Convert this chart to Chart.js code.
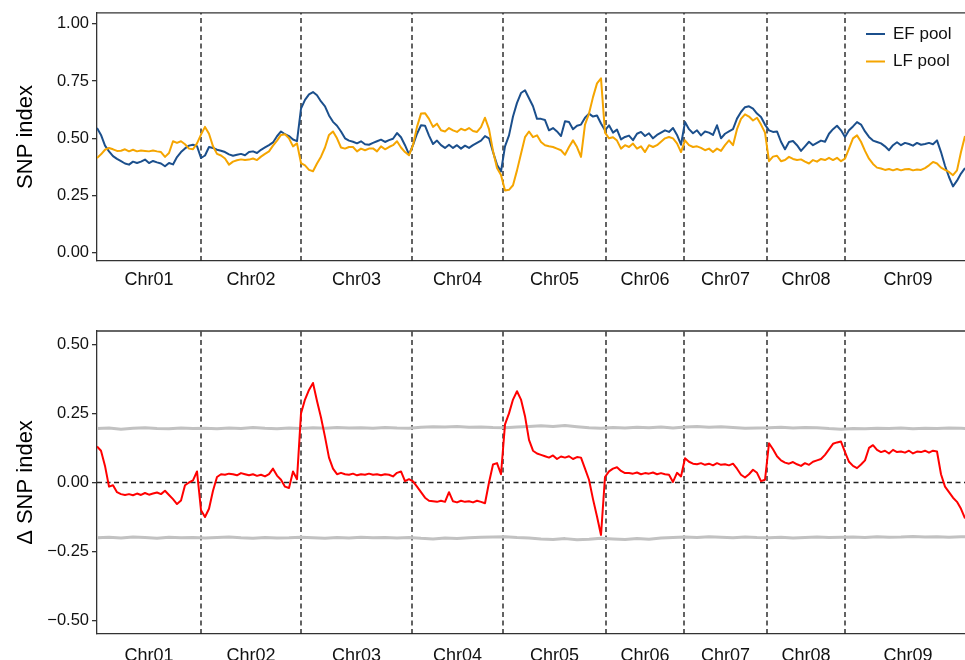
<!DOCTYPE html>
<html>
<head>
<meta charset="utf-8">
<title>SNP index</title>
<script src="https://cdn.jsdelivr.net/npm/chart.js@4.4.1/dist/chart.umd.min.js"></script>
<style>
  html, body { margin: 0; padding: 0; background: #fff; }
  #wrap { width: 965px; height: 660px; overflow: hidden; }
  canvas { display: block; }
</style>
</head>
<body>
<div id="wrap">
  <canvas id="snpChart" width="965" height="300"></canvas>
  <canvas id="deltaChart" width="965" height="360"></canvas>
</div>
<script>
/* --------- データ --------- */
// 染色体名と長さ（Mb）
const chromNames = ["Chr01", "Chr02", "Chr03", "Chr04", "Chr05", "Chr06", "Chr07", "Chr08", "Chr09"];
const chromLengths = [104, 100, 111, 91, 103, 78, 83, 78, 126];

// 表示範囲の右端（Mb）、系列のサンプル間隔（Mb）
const X_END = 868;
const STEP = 4;
const THR_STEP = 12;

// y 軸の目盛り
const snpTicks = [0, 0.25, 0.5, 0.75, 1];
const deltaTicks = [-0.5, -0.25, 0, 0.25, 0.5];

// EF pool の SNP index（STEP ごと）
const efPool = [
  0.545,0.515,0.468,0.443,0.422,0.410,0.400,0.390,0.385,0.398,0.392,0.398,0.407,0.392,0.401,0.395,0.390,0.378,0.392,0.386,0.418,0.440,0.456,0.468,0.472,0.466,
  0.414,0.425,0.462,0.458,0.450,0.446,0.440,0.430,0.424,0.428,0.432,0.426,0.440,0.443,0.436,0.450,0.460,0.470,0.482,0.509,0.530,0.518,0.510,0.495,0.488,
  0.630,0.668,0.692,0.702,0.688,0.661,0.640,0.600,0.572,0.555,0.530,0.500,0.490,0.485,0.478,0.487,0.474,0.472,0.480,0.487,0.494,0.484,0.492,0.498,0.523,0.505,0.470,0.430,
  0.470,0.520,0.557,0.555,0.512,0.475,0.490,0.470,0.458,0.472,0.458,0.470,0.455,0.468,0.458,0.470,0.480,0.490,0.510,0.500,0.440,0.385,0.355,
  0.465,0.513,0.595,0.655,0.698,0.710,0.675,0.640,0.585,0.585,0.580,0.535,0.545,0.530,0.510,0.575,0.571,0.540,0.555,0.560,0.590,0.608,0.595,0.600,0.565,
  0.535,0.557,0.525,0.538,0.495,0.506,0.512,0.492,0.520,0.528,0.510,0.522,0.500,0.515,0.525,0.535,0.528,0.545,0.515,0.472,
  0.571,0.540,0.522,0.535,0.513,0.530,0.525,0.515,0.557,0.500,0.520,0.530,0.540,0.586,0.615,0.636,0.640,0.630,0.608,0.593,0.560,
  0.535,0.528,0.530,0.485,0.452,0.484,0.488,0.470,0.445,0.465,0.485,0.470,0.480,0.490,0.485,0.520,0.540,0.555,0.535,
  0.506,0.535,0.552,0.571,0.560,0.530,0.506,0.490,0.484,0.478,0.465,0.448,0.470,0.483,0.470,0.480,0.475,0.468,0.480,0.472,0.475,0.480,0.474,0.491,0.440,0.380,0.331,0.290,0.315,0.346,0.370
];

// LF pool の SNP index（STEP ごと）
const lfPool = [
  0.414,0.430,0.450,0.458,0.452,0.445,0.446,0.452,0.443,0.450,0.443,0.447,0.445,0.443,0.447,0.443,0.440,0.419,0.436,0.487,0.480,0.487,0.474,0.455,0.452,0.478,
  0.516,0.550,0.520,0.465,0.432,0.425,0.412,0.385,0.398,0.404,0.408,0.405,0.407,0.412,0.405,0.420,0.432,0.443,0.468,0.490,0.515,0.518,0.500,0.465,0.478,
  0.392,0.382,0.362,0.356,0.390,0.420,0.460,0.515,0.530,0.500,0.460,0.455,0.462,0.462,0.443,0.455,0.448,0.455,0.456,0.443,0.465,0.452,0.462,0.470,0.487,0.460,0.440,0.426,
  0.470,0.550,0.608,0.610,0.585,0.550,0.564,0.535,0.530,0.545,0.535,0.528,0.542,0.535,0.545,0.532,0.528,0.549,0.590,0.540,0.445,0.370,0.340,
  0.272,0.275,0.295,0.360,0.433,0.505,0.530,0.505,0.513,0.484,0.470,0.465,0.462,0.455,0.448,0.428,0.462,0.491,0.462,0.419,0.560,0.608,0.680,0.740,0.762,
  0.525,0.500,0.505,0.490,0.455,0.470,0.462,0.477,0.455,0.465,0.440,0.470,0.462,0.470,0.485,0.500,0.506,0.500,0.478,0.440,
  0.491,0.470,0.462,0.465,0.458,0.448,0.455,0.440,0.455,0.445,0.470,0.491,0.470,0.540,0.585,0.605,0.595,0.578,0.590,0.560,0.525,
  0.400,0.420,0.424,0.400,0.405,0.419,0.410,0.405,0.408,0.398,0.390,0.405,0.398,0.410,0.405,0.415,0.405,0.415,0.400,
  0.411,0.455,0.500,0.513,0.485,0.445,0.411,0.388,0.372,0.368,0.362,0.366,0.360,0.366,0.360,0.365,0.366,0.360,0.364,0.362,0.370,0.382,0.397,0.390,0.372,0.362,0.353,0.339,0.360,0.440,0.510
];

// Δ SNP index（STEP ごと）
const deltaSnp = [
  0.130,0.115,0.060,-0.015,-0.010,-0.035,-0.042,-0.045,-0.042,-0.046,-0.040,-0.045,-0.038,-0.044,-0.040,-0.036,-0.042,-0.030,-0.045,-0.060,-0.078,-0.065,-0.010,0.000,0.008,0.040,
  -0.100,-0.125,-0.095,-0.030,0.020,0.030,0.028,0.032,0.030,0.026,0.034,0.030,0.026,0.030,0.024,0.028,0.022,0.030,0.050,0.025,0.010,-0.015,-0.020,0.040,0.012,
  0.250,0.300,0.335,0.360,0.295,0.235,0.165,0.090,0.050,0.030,0.035,0.030,0.028,0.032,0.026,0.030,0.028,0.032,0.028,0.030,0.026,0.030,0.028,0.022,0.035,0.040,0.005,0.012,
  0.004,-0.015,-0.035,-0.055,-0.066,-0.068,-0.070,-0.066,-0.070,-0.035,-0.068,-0.072,-0.066,-0.070,-0.068,-0.072,-0.066,-0.070,-0.075,0.000,0.065,0.070,0.030,
  0.210,0.250,0.300,0.330,0.300,0.240,0.154,0.115,0.105,0.100,0.095,0.090,0.098,0.085,0.094,0.090,0.095,0.085,0.092,0.090,0.050,0.010,-0.060,-0.123,-0.190,
  0.020,0.040,0.050,0.055,0.042,0.034,0.034,0.032,0.036,0.030,0.034,0.032,0.036,0.030,0.034,0.030,0.028,0.002,0.035,0.022,
  0.088,0.075,0.068,0.066,0.070,0.064,0.068,0.062,0.070,0.064,0.066,0.062,0.068,0.050,0.028,0.018,0.030,0.046,0.035,0.005,0.010,
  0.142,0.120,0.095,0.080,0.072,0.068,0.074,0.066,0.060,0.070,0.064,0.075,0.080,0.085,0.100,0.120,0.140,0.145,0.148,
  0.110,0.075,0.060,0.052,0.065,0.080,0.125,0.135,0.118,0.110,0.115,0.105,0.118,0.110,0.112,0.108,0.115,0.105,0.112,0.110,0.115,0.108,0.115,0.112,0.030,-0.015,-0.035,-0.055,-0.070,-0.095,-0.130
];

// 信頼区間の上限・下限（THR_STEP ごと）
const upperThreshold = [
  0.195,0.197,0.193,0.196,0.198,0.195,0.194,0.197,0.195,
  0.196,0.194,0.197,0.195,0.199,0.196,0.194,0.197,
  0.195,0.198,0.196,0.199,0.197,0.198,0.196,0.199,0.197,
  0.196,0.200,0.202,0.201,0.203,0.200,0.201,0.199,
  0.198,0.201,0.203,0.205,0.203,0.206,0.202,0.198,0.196,
  0.199,0.197,0.200,0.198,0.201,0.197,
  0.201,0.203,0.200,0.202,0.199,0.196,0.197,
  0.198,0.200,0.197,0.199,0.198,0.195,0.193,
  0.195,0.194,0.196,0.195,0.197,0.194,0.196,0.195,0.197,0.196,0.195
];
const lowerThreshold = [
  -0.200,-0.198,-0.201,-0.197,-0.199,-0.202,-0.198,-0.200,-0.199,
  -0.201,-0.199,-0.197,-0.200,-0.202,-0.199,-0.201,-0.200,
  -0.198,-0.200,-0.202,-0.199,-0.201,-0.198,-0.200,-0.199,-0.201,
  -0.199,-0.202,-0.204,-0.201,-0.203,-0.200,-0.198,-0.197,
  -0.196,-0.199,-0.201,-0.204,-0.206,-0.203,-0.207,-0.205,-0.202,
  -0.204,-0.206,-0.203,-0.205,-0.201,-0.199,
  -0.197,-0.199,-0.196,-0.198,-0.200,-0.197,-0.199,
  -0.200,-0.198,-0.201,-0.199,-0.197,-0.199,-0.198,
  -0.197,-0.199,-0.196,-0.198,-0.197,-0.195,-0.197,-0.196,-0.198,-0.196,-0.197
];

/* --------- 共通設定 --------- */
const FONT = '"Liberation Sans", Arial, Helvetica, sans-serif';
const AXIS_COLOR = "#333333";
const DASH_COLOR = "#222222";
const TEXT_COLOR = "#111111";

// 染色体の開始位置・境界・中心
const chromStarts = [];
let acc = 0;
chromLengths.forEach((len) => { chromStarts.push(acc); acc += len; });
const boundaries = chromStarts.slice(1);
const chromCenters = chromStarts.map((s, i) => s + chromLengths[i] / 2);

// 値の配列を {x, y} の点列に
function toPoints(values, step) {
  return values.map((v, i) => ({ x: i * step, y: v }));
}

// 染色体境界の縦破線（null で区切る）
function boundaryPoints(lo, hi) {
  const pts = [];
  boundaries.forEach((b) => pts.push({ x: b, y: lo }, { x: b, y: hi }, { x: b, y: null }));
  return pts;
}

function lineDataset(label, data, color, width, extra) {
  return Object.assign({
    label,
    data,
    borderColor: color,
    backgroundColor: color,
    borderWidth: width,
    pointRadius: 0,
    tension: 0,
    fill: false,
    borderJoinStyle: "round",
  }, extra || {});
}

function dashedDataset(data) {
  return lineDataset("", data, DASH_COLOR, 1.4, { borderDash: [5, 3.5], borderJoinStyle: "miter" });
}

function fmtTick(v) {
  const s = Math.abs(v).toFixed(2);
  return v < 0 ? "\u2212" + s : s;
}

function xScale(height, padding) {
  return {
    type: "linear",
    min: 0,
    max: X_END,
    grid: { display: false, drawTicks: false },
    border: { display: true, color: AXIS_COLOR, width: 1.3 },
    afterBuildTicks: (s) => { s.ticks = chromCenters.map((v) => ({ value: v })); },
    afterFit: (s) => { s.height = height; },
    ticks: {
      autoSkip: false,
      maxRotation: 0,
      padding,
      color: TEXT_COLOR,
      font: { family: FONT, size: 18 },
      callback: (v, i) => chromNames[i],
    },
  };
}

function yScale(min, max, tickValues, title) {
  return {
    type: "linear",
    min,
    max,
    grid: { display: true, drawOnChartArea: false, drawTicks: true, tickLength: 5, tickColor: AXIS_COLOR, lineWidth: 1.3 },
    border: { display: true, color: AXIS_COLOR, width: 1.3 },
    afterBuildTicks: (s) => { s.ticks = tickValues.map((v) => ({ value: v })); },
    afterFit: (s) => { s.width = 97; },
    ticks: {
      padding: 3,
      color: TEXT_COLOR,
      font: { family: FONT, size: 16.5 },
      callback: (v) => fmtTick(v),
    },
    title: {
      display: true,
      text: title,
      color: "#000",
      font: { family: FONT, size: 22 },
      padding: { top: 13, bottom: 0 },
    },
  };
}

// パネル上辺の枠線
const topBorder = {
  id: "topBorder",
  afterDraw(chart) {
    const { ctx, chartArea } = chart;
    ctx.save();
    ctx.strokeStyle = AXIS_COLOR;
    ctx.lineWidth = 1.3;
    ctx.beginPath();
    ctx.moveTo(chartArea.left, chartArea.top);
    ctx.lineTo(chartArea.right, chartArea.top);
    ctx.stroke();
    ctx.restore();
  },
};

// 右上の凡例（パネル内）
const poolLegend = {
  id: "poolLegend",
  afterDraw(chart) {
    const ctx = chart.ctx;
    const items = chart.data.datasets.filter((d) => d.legendRow !== undefined)
      .sort((a, b) => a.legendRow - b.legendRow);
    ctx.save();
    ctx.font = "17px " + FONT;
    ctx.textBaseline = "middle";
    ctx.fillStyle = TEXT_COLOR;
    items.forEach((d) => {
      const y = 34 + d.legendRow * 27.5;
      ctx.strokeStyle = d.borderColor;
      ctx.lineWidth = 2;
      ctx.beginPath();
      ctx.moveTo(866, y);
      ctx.lineTo(885, y);
      ctx.stroke();
      ctx.fillText(d.label, 893, y);
    });
    ctx.restore();
  },
};

const baseOptions = {
  responsive: false,
  animation: false,
  devicePixelRatio: 1,
  events: [],
  plugins: { legend: { display: false }, tooltip: { enabled: false } },
};

/* --------- SNP index（上段） --------- */
const SNP_MIN = -0.036, SNP_MAX = 1.048;
new Chart(document.getElementById("snpChart"), {
  type: "line",
  data: {
    datasets: [
      lineDataset("LF pool", toPoints(lfPool, STEP), "#f5a500", 2, { legendRow: 1 }),
      lineDataset("EF pool", toPoints(efPool, STEP), "#1b4f8c", 2, { legendRow: 0 }),
      dashedDataset(boundaryPoints(SNP_MIN, SNP_MAX)),
    ],
  },
  options: Object.assign({}, baseOptions, {
    layout: { padding: { top: 12, left: 0, right: 0, bottom: 0 } },
    scales: {
      x: xScale(39, 8),
      y: yScale(SNP_MIN, SNP_MAX, snpTicks, "SNP index"),
    },
  }),
  plugins: [topBorder, poolLegend],
});

/* --------- Δ SNP index（下段） --------- */
const DELTA_MIN = -0.548, DELTA_MAX = 0.548;
new Chart(document.getElementById("deltaChart"), {
  type: "line",
  data: {
    datasets: [
      lineDataset("Δ SNP index", toPoints(deltaSnp, STEP), "#ff0000", 2),
      lineDataset("upper", toPoints(upperThreshold, THR_STEP), "#c2c2c2", 3),
      lineDataset("lower", toPoints(lowerThreshold, THR_STEP), "#c2c2c2", 3),
      dashedDataset([{ x: 0, y: 0 }, { x: X_END, y: 0 }]),
      dashedDataset(boundaryPoints(DELTA_MIN, DELTA_MAX)),
    ],
  },
  options: Object.assign({}, baseOptions, {
    layout: { padding: { top: 31, left: 0, right: 0, bottom: 0 } },
    scales: {
      x: xScale(26, 11),
      y: yScale(DELTA_MIN, DELTA_MAX, deltaTicks, "Δ SNP index"),
    },
  }),
  plugins: [topBorder],
});
</script>
</body>
</html>
